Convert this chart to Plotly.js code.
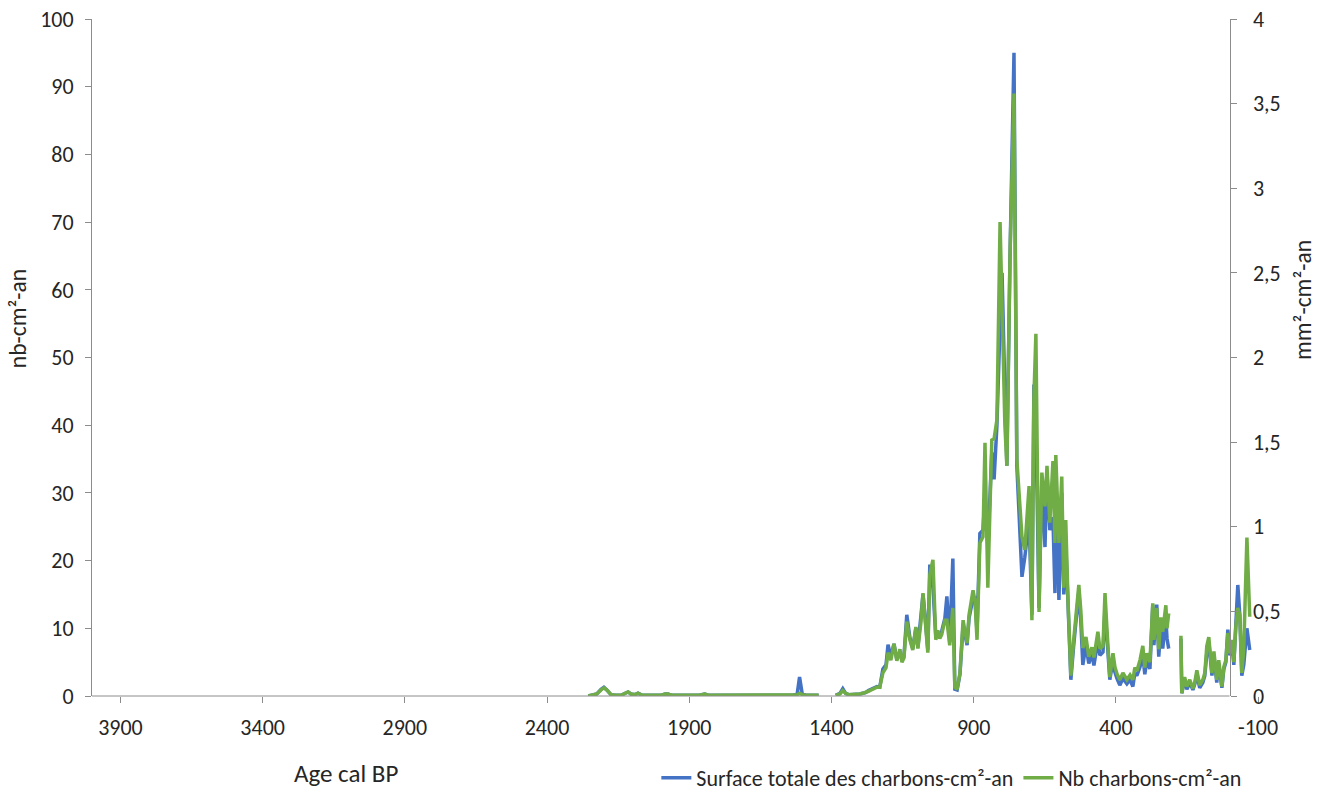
<!DOCTYPE html>
<html>
<head>
<meta charset="utf-8">
<script src="https://cdn.plot.ly/plotly-3.0.1.min.js"></script>
<style>
  html, body { margin: 0; padding: 0; background: #fff; }
  #chart { width: 1322px; height: 792px; }
</style>
</head>
<body>
<div id="chart"></div>
<script>
// Age (cal BP) of each sample; null values mark gaps in the record
const ages = [
  2255, 2240, 2225, 2210, 2200, 2190, 2175, 2160, 2140, 2125,
  2115, 2105, 2090, 2080, 2065, 2045, 2020, 2000, 1985, 1975,
  1960, 1940, 1920, 1900, 1880, 1865, 1845, 1830, 1810, 1790,
  1770, 1750, 1730, 1710, 1690, 1675, 1660, 1640, 1620, 1600,
  1585, 1570, 1555, 1535, 1520, 1512, 1503, 1490, 1475, 1460,
  1445, 1420, 1385, 1370, 1360, 1350, 1340, 1330, 1320, 1310,
  1300, 1290, 1280, 1270, 1260, 1250, 1240, 1230, 1219, 1208,
  1201, 1191, 1180, 1170, 1159, 1152, 1145, 1135, 1124, 1114,
  1103, 1096, 1085, 1078, 1071, 1061, 1054, 1043, 1033, 1026,
  1019, 1012, 1001, 994, 984, 973, 966, 958, 948, 937,
  923, 916, 902, 895, 888, 878, 867, 860, 850, 836,
  828, 818, 807, 800, 790, 783, 772, 758, 748, 730,
  720, 705, 695, 688, 681, 670, 660, 649, 642, 632,
  621, 614, 611, 600, 590, 583, 576, 568, 558, 548,
  537, 530, 523, 516, 505, 495, 484, 477, 463, 456,
  445, 438, 431, 424, 421, 410, 403, 396, 386, 375,
  361, 350, 340, 333, 326, 315, 305, 298, 291, 280,
  270, 266, 256, 249, 242, 235, 224, 220, 214, 195,
  171, 168, 158, 150, 140, 129, 122, 115, 105, 94,
  87, 80, 73, 62, 55, 45, 38, 27, 20, 13,
  6, -1, -8, -15, -22, -29, -36, -43, -50, -61,
  -71
];

// Nb charbons-cm²-an (left axis, nb-cm²-an)
const nbCharbons = [
  0, 0.1, 0.3, 0.9, 1.2, 0.9, 0.2, 0.1, 0.1, 0.4,
  0.6, 0.3, 0.2, 0.4, 0.1, 0.1, 0.1, 0.1, 0.3, 0.3,
  0.1, 0.1, 0.1, 0.1, 0.2, 0.1, 0.3, 0.1, 0.1, 0.1,
  0.1, 0.1, 0.1, 0.1, 0.2, 0.2, 0.1, 0.1, 0.1, 0.1,
  0.2, 0.2, 0.1, 0.1, 0.2, 0.4, 0.2, 0.1, 0.1, 0.1,
  0.1, null, 0.1, 0.3, 0.8, 0.4, 0.2, 0.2, 0.3, 0.2,
  0.3, 0.4, 0.5, 0.7, 0.9, 1.1, 1.3, 1.3, 3.4, 4.2,
  6.4, 5.3, 7.7, 5.2, 6.9, 5.0, 5.6, 11, 8.3, 6.8,
  10.2, 7, 11, 15.2, 11, 6.4, 17.9, 20.1, 8.3, 9.7,
  8.5, 9.1, 11.2, 11.2, 7.5, 13, 1.3, 1.0, 3.4, 11.2,
  7.8, 12, 15.6, 14, 8.3, 22.6, 23.5, 37.4, 16, 37.8,
  38, 40.8, 70, 55, 40, 34, 65, 89, 35, 23.5,
  21.6, 31, 11.2, 44, 53.5, 12.4, 33, 28, 34, 25.6,
  34.7, 22.6, 35.6, 22.6, 32.4, 16, 26, 14, 3.0, 8.3,
  13.2, 16.4, 12.6, 7.1, 8.7, 5.8, 7.2, 5.7, 9.5, 7.0,
  7.4, 15.2, 9.8, 4.3, 2.8, 6.3, 4.3, 3.3, 2.4, 3.4,
  2.4, 3.1, 2.4, 4.2, 3.7, 5.3, 7.4, 4.2, 6.3, 5,
  13.7, 8.3, 13, 6.9, 11.6, 9.5, 13.4, 10, 12.2, null,
  8.9, 0.4, 2.8, 1.4, 2.4, 1.1, 2.1, 3.8, 1.6, 2.4,
  3.4, 7.4, 8.7, 3.4, 6.6, 2.4, 5.3, 1.4, 4.3, 5.3,
  9.3, 6.3, 8.3, 5.0, 10.2, 13, 12, 3.4, 7, 23.4,
  11.7
];

// Surface totale des charbons-cm²-an (right axis, mm²-cm²-an)
const surfaceTotale = [
  0, 0.004, 0.012, 0.04, 0.052, 0.036, 0.008, 0.004, 0.004, 0.016,
  0.024, 0.012, 0.008, 0.016, 0.004, 0.004, 0.004, 0.004, 0.012, 0.012,
  0.004, 0.004, 0.004, 0.004, 0.008, 0.004, 0.012, 0.004, 0.004, 0.004,
  0.004, 0.004, 0.004, 0.004, 0.008, 0.008, 0.004, 0.004, 0.004, 0.004,
  0.008, 0.008, 0.004, 0.004, 0.016, 0.112, 0.016, 0.004, 0.004, 0.004,
  0.004, null, 0.004, 0.016, 0.044, 0.016, 0.008, 0.008, 0.012, 0.008,
  0.012, 0.016, 0.02, 0.032, 0.04, 0.044, 0.056, 0.052, 0.16, 0.184,
  0.304, 0.232, 0.308, 0.216, 0.26, 0.212, 0.232, 0.48, 0.344, 0.28,
  0.4, 0.288, 0.46, 0.6, 0.48, 0.272, 0.776, 0.64, 0.352, 0.368,
  0.36, 0.384, 0.46, 0.588, 0.32, 0.812, 0.04, 0.036, 0.128, 0.42,
  0.3, 0.46, 0.58, 0.58, 0.38, 0.96, 0.98, 1.184, 0.88, 1.44,
  1.28, 1.6, 2.2, 2.5, 1.8, 1.36, 2.6, 3.8, 1.36, 0.704,
  0.82, 1.04, 0.48, 1.84, 1.6, 0.52, 1.28, 0.88, 1.32, 0.98,
  1.056, 0.608, 1.32, 0.568, 1.2, 0.6, 0.904, 0.52, 0.096, 0.3,
  0.48, 0.62, 0.44, 0.184, 0.3, 0.192, 0.248, 0.18, 0.328, 0.24,
  0.26, 0.52, 0.34, 0.14, 0.096, 0.208, 0.14, 0.104, 0.064, 0.104,
  0.072, 0.096, 0.056, 0.136, 0.12, 0.172, 0.24, 0.128, 0.208, 0.16,
  0.54, 0.3, 0.54, 0.232, 0.4, 0.28, 0.46, 0.34, 0.28, null,
  0.34, 0.016, 0.096, 0.04, 0.08, 0.036, 0.072, 0.128, 0.048, 0.08,
  0.12, 0.252, 0.32, 0.12, 0.24, 0.08, 0.192, 0.048, 0.16, 0.2,
  0.392, 0.24, 0.32, 0.184, 0.42, 0.656, 0.48, 0.12, 0.184, 0.4,
  0.272
];

const xTickVals = [3900, 3400, 2900, 2400, 1900, 1400, 900, 400, -100];
const xTickText = ['3900', '3400', '2900', '2400', '1900', '1400', '900', '400', '-100'];
const seriesNames = ['Surface totale des charbons-cm²-an', 'Nb charbons-cm²-an'];
const axisTitles = { left: 'nb-cm²-an', right: 'mm²-cm²-an', x: 'Age cal BP' };

const FONT = "Carlito, Calibri, 'Liberation Sans Narrow', Roboto, sans-serif";
const AXIS_COL = '#8c8c8c';
const TXT_COL = '#262626';
const xMin = 4000, xMax = -100;
const rightAxisPos = (xMin - 0) / (xMin - xMax);

const traces = [
  {
    x: ages, y: surfaceTotale, name: seriesNames[0], type: 'scatter', mode: 'lines',
    yaxis: 'y', connectgaps: false,
    line: { color: '#4472C4', width: 3.5 }
  },
  {
    x: ages, y: nbCharbons, name: seriesNames[1], type: 'scatter', mode: 'lines',
    yaxis: 'y2', connectgaps: false,
    line: { color: '#70AD47', width: 3.5 }
  }
];

const layout = {
  width: 1322, height: 792,
  margin: { l: 92, r: 64, t: 19, b: 96, autoexpand: false },
  paper_bgcolor: '#fff', plot_bgcolor: '#fff',
  separators: ', ',
  font: { family: FONT, size: 22, color: TXT_COL },
  showlegend: true,
  legend: {
    orientation: 'h', x: 0.484, y: -0.121, xanchor: 'left', yanchor: 'middle',
    font: { family: FONT, size: 22, color: TXT_COL }, itemwidth: 30,
    bgcolor: 'rgba(0,0,0,0)'
  },
  xaxis: {
    range: [xMin, xMax], tickmode: 'array', tickvals: xTickVals, ticktext: xTickText,
    showgrid: false, zeroline: false, showline: false,
    ticks: 'outside', ticklen: 6, tickcolor: AXIS_COL, tickwidth: 1,
    tickfont: { family: FONT, size: 22, color: TXT_COL },
    anchor: 'y2', ticklabelstandoff: 6
  },
  yaxis: {
    range: [0, 4], dtick: 0.5, side: 'right', anchor: 'free', position: rightAxisPos,
    showgrid: false, zeroline: false, showline: true, linecolor: AXIS_COL, linewidth: 1,
    ticks: 'outside', ticklen: 6, tickcolor: AXIS_COL, ticklabelstandoff: 12,
    tickfont: { family: FONT, size: 22, color: TXT_COL }
  },
  yaxis2: {
    range: [0, 100], dtick: 10, side: 'left', overlaying: 'y', anchor: 'x',
    showgrid: false, zeroline: false, showline: true, linecolor: AXIS_COL, linewidth: 1,
    ticks: 'outside', ticklen: 6, tickcolor: AXIS_COL, ticklabelstandoff: 7,
    tickfont: { family: FONT, size: 22, color: TXT_COL }
  },
  shapes: [
    { type: 'line', xref: 'x', yref: 'paper', x0: xMin, x1: 0, y0: 0, y1: 0,
      line: { color: AXIS_COL, width: 1 }, layer: 'above' }
  ],
  annotations: [
    { text: axisTitles.left, xref: 'paper', yref: 'paper', x: -0.0635, y: 0.558,
      textangle: -90, showarrow: false, xanchor: 'center', yanchor: 'middle',
      font: { family: FONT, size: 23.5, color: TXT_COL } },
    { text: axisTitles.right, xref: 'paper', yref: 'paper', x: 1.0386, y: 0.585,
      textangle: -90, showarrow: false, xanchor: 'center', yanchor: 'middle',
      font: { family: FONT, size: 23.5, color: TXT_COL } },
    { text: axisTitles.x, xref: 'paper', yref: 'paper', x: 0.218, y: -0.114,
      showarrow: false, xanchor: 'center', yanchor: 'middle',
      font: { family: FONT, size: 25, color: TXT_COL } }
  ]
};

Plotly.newPlot('chart', traces, layout, { displayModeBar: false, staticPlot: true });
</script>
</body>
</html>
